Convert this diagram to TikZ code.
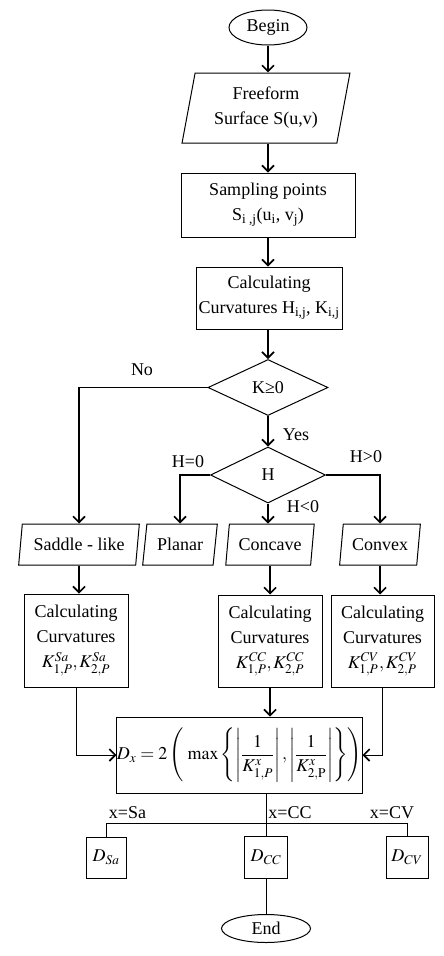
\documentclass[tikz,border=0pt]{standalone}
\usepackage{amsmath}
\usepackage{mathptmx}
\usepackage{fontspec}
\setmainfont{Liberation Serif}
\usetikzlibrary{shapes.geometric,arrows.meta}
\tikzset{
  box/.style={draw, line width=1pt, inner sep=0pt, align=center},
  para/.style={trapezium, trapezium left angle=77, trapezium right angle=103, trapezium stretches=true, draw, line width=1pt, inner sep=0pt, minimum height=41pt, align=center},
  term/.style={ellipse, draw, line width=1pt, inner sep=0pt},
  dec/.style={diamond, draw, line width=1pt, inner sep=0pt},
  arr/.style={line width=1.6pt, -{Straight Barb[length=6pt,width=12pt]}},
  tarr/.style={line width=1pt, -{Straight Barb[length=6pt,width=12pt,line width=1.6pt]}},
  thinl/.style={line width=1pt},
  lbl/.style={inner sep=0pt}
}
\begin{document}
\begin{tikzpicture}[x=1pt,y=-1pt,font=\fontsize{18}{25}\selectfont]
\useasboundingbox (0,0) rectangle (444,956);
\node[term, minimum width=78pt, minimum height=35pt] (begin) at (268,27.5) {Begin};
\node[para, minimum width=168pt, minimum height=70pt] (free) at (266,108) {Freeform\\Surface S(u,v)};
\node[box, minimum width=174pt, minimum height=64pt] (samp) at (268,205) {Sampling points\\S\textsubscript{i ,j}(u\textsubscript{i}, v\textsubscript{j})};
\node[box, minimum width=146pt, minimum height=62pt] (calch) at (269,298) {Calculating\\Curvatures H\textsubscript{i,j}, K\textsubscript{i,j}};
\node[dec, minimum width=120pt, minimum height=56pt] (k) at (268,387.5) {K≥0};
\node[dec, minimum width=115pt, minimum height=56pt] (h) at (268,475) {H};
\node[para, minimum width=121pt] (saddle) at (79,544.5) {Saddle - like};
\node[para, minimum width=75pt] (planar) at (180,544.5) {Planar};
\node[para, minimum width=89pt] (concave) at (270,544.5) {Concave};
\node[para, minimum width=81pt] (convex) at (380,544.5) {Convex};
\node[box, minimum width=104pt, minimum height=93pt] (csa) at (76,640.5) {Calculating\\Curvatures\\$K^{Sa}_{1,P},K^{Sa}_{2,P}$};
\node[box, minimum width=104pt, minimum height=92pt] (ccc) at (270,641) {Calculating\\Curvatures\\$K^{CC}_{1,P},K^{CC}_{2,P}$};
\node[box, minimum width=103pt, minimum height=92pt] (ccv) at (382.5,641) {Calculating\\Curvatures\\$K^{CV}_{1,P},K^{CV}_{2,P}$};
\node[box, minimum width=223pt, minimum height=76pt] (form) at (239.5,755) {$D_x = 2\left(\;\max\left\{\left|\dfrac{1}{K^x_{1,P}}\right|,\left|\dfrac{1}{K^x_{2,\mathrm{P}}}\right|\right\}\right)$};
\node[box, minimum width=40pt, minimum height=41pt] (dsa) at (106,857.5) {$D_{Sa}$};
\node[box, minimum width=43pt, minimum height=42pt] (dcc) at (266,857) {$D_{CC}$};
\node[box, minimum width=42pt, minimum height=42pt] (dcv) at (407,857) {$D_{CV}$};
\node[term, minimum width=89pt, minimum height=28pt] (end) at (266,928.5) {End};
% labels
\node[lbl] (lno) at (142,370) {No};
\node[lbl] (lyes) at (296,435) {Yes};
\node[lbl] (lh0) at (188,462) {H=0};
\node[lbl] (lhg) at (366,457) {H>0};
\node[lbl] (lhl) at (303,507) {H<0};
\node[lbl] (lxsa) at (127.5,813) {x=Sa};
\node[lbl] (lxcc) at (290,813) {x=CC};
\node[lbl] (lxcv) at (392,813) {x=CV};
% connectors
\draw[arr] (begin.south) -- (begin.south |- free.north);
\draw[arr] (free.south -| begin) -- (samp.north -| begin);
\draw[arr] (samp.south) -- (samp.south |- calch.north);
\draw[arr] (calch.south -| k) -- (k.north);
\draw[arr] (k.south) -- (h.north);
\draw[arr] (k.west) -| (saddle.north);
\draw[arr] (h.west) -| (planar.north);
\draw[arr] (h.south) -- (h.south |- concave.north);
\draw[arr] (h.east) -| (convex.north);
\draw[arr] (saddle.south) -- (saddle.south |- csa.north);
\draw[arr] (concave.south) -- (concave.south |- ccc.north);
\draw[arr] (convex.south) -- (convex.south |- ccv.north);
\draw[arr] (ccc.south) -- (ccc.south |- form.north);
\draw[tarr] (csa.south) |- (form.west);
\draw[tarr] (ccv.south) |- (form.east);
\coordinate (bus) at (0,823);
\draw[thinl] (dcc.north |- form.south) -- (dcc.north);
\draw[thinl] (dsa.north) -- (dsa.north |- bus) -- (dcv.north |- bus) -- (dcv.north);
\draw[thinl] (dcc.south) -- (end.north);
\end{tikzpicture}
\end{document}
